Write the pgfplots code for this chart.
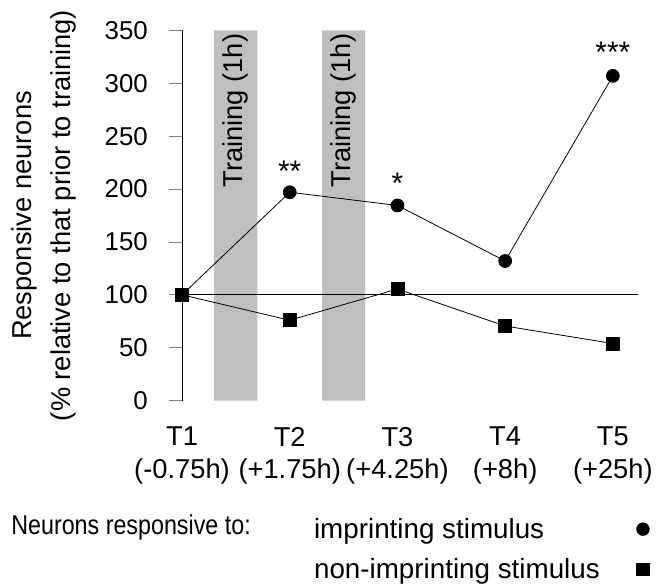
\documentclass[border=0pt]{standalone}
\usepackage{fontspec}
\setmainfont{Liberation Sans}
\usepackage{pgfplots}
\pgfplotsset{compat=1.18}

% series (percent of pre-training value)
\pgfplotstableread{
x  y
0  100
1  197
2  184.5
3  132
4  307
}\imprinting
\pgfplotstableread{
x  y
0  100
1  76
2  105.5
3  70.5
4  54
}\nonimprinting

\begin{document}
\begin{tikzpicture}[font=\fontsize{24}{33}\selectfont]
\begin{axis}[
  scale only axis,
  width=459pt, height=373pt,
  xmin=0, xmax=4.23,
  ymin=0, ymax=350,
  clip=false,
  axis lines*=left,
  x axis line style={draw=none},
  axis line style={line width=0.9pt},
  ytick={0,50,...,350},
  tick align=outside,
  major tick length=13pt,
  ytick style={line width=0.9pt},
  yticklabel style={xshift=-18pt, font=\fontsize{26}{30}\selectfont},
  /pgf/number format/assume math mode=true,
  xtick={0,1,2,3,4},
  xtick style={draw=none},
  xticklabels={{T1\\(-0.75h)},{T2\\(+1.75h)},{T3\\(+4.25h)},{T4\\(+8h)},{T5\\(+25h)}},
  xticklabel style={align=center, yshift=-10pt, font=\fontsize{27.5}{33}\selectfont},
  ylabel={Responsive neurons\\(\% relative to that prior to training)},
  ylabel style={align=center, font=\fontsize{27.5}{39}\selectfont, inner ysep=12pt, inner xsep=10pt,
    at={(axis description cs:-0.303,0.5)}, anchor=center},
  legend plot pos=right,
  legend cell align=left,
  legend image code/.code={\draw[#1] plot coordinates {(0pt,0pt)};},
  legend style={draw=none, fill=none, inner xsep=0pt, inner ysep=6pt,
    font=\fontsize{28}{31}\selectfont,
    at={(axis description cs:0.285,-0.296)}, anchor=north west,
    row sep=14.5pt, column sep=35pt},
]
% training periods
\addplot[fill=black!25, draw=none, forget plot] coordinates {(0.295,0) (0.70,0) (0.70,350) (0.295,350)} \closedcycle;
\addplot[fill=black!25, draw=none, forget plot] coordinates {(1.30,0) (1.70,0) (1.70,350) (1.30,350)} \closedcycle;
% baseline at 100 %
\addplot[black, line width=0.8pt, forget plot] coordinates {(0,100) (4.23,100)};

\addplot[black, line width=0.8pt, mark=*, mark size=6.5pt, forget plot] table[x=x,y=y] {\imprinting};
\addplot[black, line width=0.8pt, mark=square*, mark size=6.5pt, forget plot] table[x=x,y=y] {\nonimprinting};

\addlegendimage{only marks, mark=*, mark size=6.5pt, black}
\addlegendentry{imprinting stimulus}
\addlegendimage{only marks, mark=square*, mark size=6.5pt, black}
\addlegendentry{non-imprinting stimulus}

\node[rotate=90, anchor=east, inner sep=0pt, font=\fontsize{27.5}{33}\selectfont] at (axis cs:0.497,347) {Training (1h)};
\node[rotate=90, anchor=east, inner sep=0pt, font=\fontsize{27.5}{33}\selectfont] at (axis cs:1.50,347) {Training (1h)};

\node[anchor=base, font=\fontsize{30}{33}\selectfont] at (axis cs:1,207) {**};
\node[anchor=base, font=\fontsize{30}{33}\selectfont] at (axis cs:2,196) {*};
\node[anchor=base, font=\fontsize{30}{33}\selectfont] at (axis cs:4,320) {***};

\node[anchor=west, inner sep=0pt, xscale=0.853, font=\fontsize{27.5}{33}\selectfont] at (axis description cs:-0.375,-0.342) {Neurons responsive to:};
\end{axis}
\end{tikzpicture}
\end{document}
